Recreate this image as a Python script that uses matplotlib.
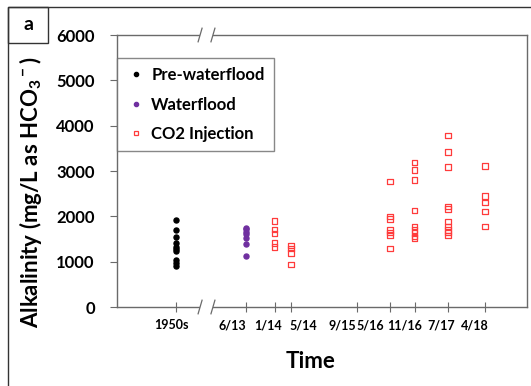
import matplotlib
matplotlib.use("Agg")
import matplotlib.pyplot as plt
from matplotlib.patches import Rectangle
from matplotlib.lines import Line2D

plt.rcParams['font.family'] = ['Lato', 'DejaVu Sans']
plt.rcParams['font.weight'] = 'bold'
plt.rcParams['mathtext.fontset'] = 'custom'
plt.rcParams['mathtext.rm'] = 'Lato:bold'
plt.rcParams['mathtext.bf'] = 'Lato:bold'
plt.rcParams['mathtext.it'] = 'Lato:bold'
plt.rcParams['axes.unicode_minus'] = False

# ---- data ----
tick_labels = ["1950s", "6/13", "1/14", "5/14", "9/15", "5/16", "11/16", "7/17", "4/18"]
tick_pos = [2012.0, 2013.42, 2014.0, 2014.33, 2015.67, 2016.33, 2016.83, 2017.5, 2018.25]
label_pos = [2011.92, 2013.14, 2013.86, 2014.57, 2015.36, 2015.93, 2016.63, 2017.36, 2018.05]

pre_x = 2012.0
pre_vals = [1920, 1690, 1540, 1420, 1330, 1280, 1240, 1040, 980, 900]

wf_x = 2013.42
wf_vals = [1750, 1710, 1660, 1610, 1530, 1390, 1130]

co2_dates = [2014.0, 2014.33, 2016.33, 2016.83, 2017.5, 2018.25]
co2_vals = [
    [1900, 1710, 1620, 1410, 1320],
    [1360, 1290, 1190, 940],
    [2770, 1990, 1940, 1700, 1640, 1590, 1290],
    [3190, 3020, 2800, 2130, 1770, 1700, 1630, 1560, 1520],
    [3780, 3420, 3090, 2220, 2160, 1880, 1770, 1700, 1650, 1580],
    [3110, 2450, 2300, 2100, 1770],
]

W, H = 531, 386
fig = plt.figure(figsize=(W / 100, H / 100), dpi=100)

def fx(px):
    return px / W

def fy(py):
    return 1 - py / H

ax = fig.add_axes([fx(117), fy(307), fx(527) - fx(117), fy(35) - fy(307)])
ax.set_xlim(2010.81, 2019.1)
ax.set_ylim(0, 6000)

axis_col = '#6a6a6a'
for s in ax.spines.values():
    s.set_color(axis_col)
    s.set_linewidth(1.0)

pre_col = 'black'
wf_col = '#7030A0'
co2_col = '#FF3B3B'

ax.scatter([pre_x] * len(pre_vals), pre_vals, s=13, color=pre_col, zorder=3)
ax.scatter([wf_x] * len(wf_vals), wf_vals, s=13, color=wf_col, zorder=3)
cx, cy = [], []
for d, vals in zip(co2_dates, co2_vals):
    cx += [d] * len(vals)
    cy += vals
ax.scatter(cx, cy, s=15, marker='s', facecolor='none', edgecolor=co2_col,
           linewidth=0.9, zorder=3)

ax.set_xticks(tick_pos)
ax.set_xticklabels([])
for lp, lab in zip(label_pos, tick_labels):
    ax.text(lp, -0.045, lab, transform=ax.get_xaxis_transform(), ha='center', va='top',
            fontsize=9, fontweight='bold')
ax.set_yticks([0, 1000, 2000, 3000, 4000, 5000, 6000])
ax.tick_params(axis='x', direction='inout', length=7, width=0.8, color=axis_col)
ax.tick_params(axis='y', direction='out', length=5, width=0.8, color=axis_col,
               labelsize=12, pad=11)
for lab in ax.get_yticklabels():
    lab.set_fontweight('bold')

fig.text(fx(311), fy(362), 'Time', fontsize=16, fontweight='bold', ha='center', va='center')
fig.text(fx(31), fy(192), 'Alkalinity (mg/L as HCO$_3$$^-$)', fontsize=16,
         fontweight='bold', rotation=90, ha='center', va='center')

# axis break on bottom and top spines
b0, b1 = 2012.49, 2012.75
for yy in (0, 1):
    ax.add_patch(Rectangle((b0, yy - 0.006), b1 - b0, 0.012, transform=ax.get_xaxis_transform(),
                           facecolor='white', edgecolor='none', clip_on=False, zorder=5))
    for bx in (b0, b1):
        ax.add_line(Line2D([bx - 0.04, bx + 0.04], [yy - 0.025, yy + 0.025],
                           transform=ax.get_xaxis_transform(), color=axis_col, lw=0.9,
                           clip_on=False, zorder=6))

# legend
handles = [
    Line2D([], [], marker='o', ls='none', color=pre_col, markersize=3),
    Line2D([], [], marker='o', ls='none', color=wf_col, markersize=3),
    Line2D([], [], marker='s', ls='none', markerfacecolor='none', markeredgecolor=co2_col,
           markersize=3.5, markeredgewidth=0.9),
]
leg = ax.legend(handles, ['Pre-waterflood', 'Waterflood', 'CO2 Injection'],
                loc='upper left', bbox_to_anchor=(0.0, 1 - (58 - 35) / 272),
                frameon=True, fancybox=False, borderaxespad=0, handlelength=1.2,
                handletextpad=0.3, labelspacing=0.8, borderpad=0.55,
                prop={'size': 12, 'weight': 'bold'})
leg.get_frame().set_edgecolor(axis_col)
leg.get_frame().set_linewidth(1.0)

# outer frame and panel label
fig.add_artist(Rectangle((fx(8), fy(400)), fx(540) - fx(8), fy(7) - fy(400),
                         transform=fig.transFigure, facecolor='none',
                         edgecolor='#333333', lw=1.0))
fig.add_artist(Rectangle((fx(8), fy(43)), fx(48) - fx(8), fy(7) - fy(43),
                         transform=fig.transFigure, facecolor='none',
                         edgecolor='#333333', lw=1.0))
fig.text(fx(28), fy(24), 'a', fontsize=14, fontweight='bold', ha='center', va='center')

fig.savefig('out.png', dpi=100)
